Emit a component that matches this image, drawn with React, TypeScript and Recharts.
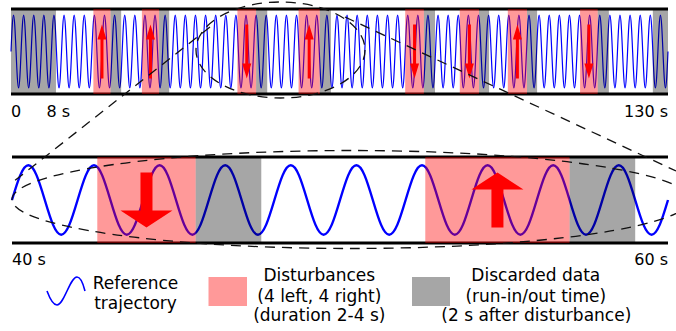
import { ComposedChart, Line, XAxis, YAxis, ReferenceArea, ReferenceLine, Scatter } from "recharts";

// one period of the reference trajectory, sampled every 1/8 period (s, normalised level)
const wavePeriod = 2;
const wavePhase = [0, 0.25, 0.5, 0.75, 1, 1.25, 1.5, 1.75];
const waveLevel = [0, 0.71, 1, 0.71, 0, -0.71, -1, -0.71];

// full run, 0-130 s
const runSpan = [0, 130];
const runTicks = [0, 8, 130];
const runTickLabels = ["0", "8 s", "130 s"];
const runInOut = [
  [0, 8.9],
  [127, 130],
];
const runPushStart = [16.3, 25.9, 44.8, 56.9, 78.0, 88.8, 98.3, 112.6];
const runPushEnd = [19.7, 29.3, 48.5, 61.1, 81.7, 92.6, 102.1, 116.1];
const runSettleEnd = [21.8, 31.3, 50.7, 63.3, 83.9, 94.6, 104.1, 118.3];
const runPushDir = [1, 1, -1, 1, -1, -1, 1, -1];

// zoomed window, 40-60 s
const zoomSpan = [40, 60];
const zoomTicks = [40, 60];
const zoomTickLabels = ["40 s", "60 s"];
const zoomPushStart = [42.6, 52.6];
const zoomPushEnd = [45.6, 57.0];
const zoomSettleEnd = [47.6, 59.0];
const zoomPushDir = [-1, 1];
const zoomArrowAt = [44.1, 54.8];

const FONT = "'DejaVu Sans', sans-serif";
const PINK = "#ff0000";
const GREY = "#000000";

function buildWave(from: number, to: number) {
  const rows: { t: number; y: number }[] = [];
  for (let start = from; start < to; start += wavePeriod) {
    wavePhase.forEach((p, i) => rows.push({ t: start + p, y: waveLevel[i] }));
  }
  rows.push({ t: to, y: 0 });
  return rows;
}

function arrowShape(len: number, shaft: number, head: number, headLen: number) {
  return (props: any) => {
    const { cx, cy, payload } = props;
    const d = payload.dir;
    const tip = cy - (d * len) / 2;
    const tail = cy + (d * len) / 2;
    const base = tip + d * headLen;
    const p = [
      [cx - shaft / 2, tail],
      [cx - shaft / 2, base],
      [cx - head / 2, base],
      [cx, tip],
      [cx + head / 2, base],
      [cx + shaft / 2, base],
      [cx + shaft / 2, tail],
    ];
    return <path d={"M" + p.map((q) => q.join(" ")).join("L") + "Z"} fill="#ff0000" />;
  };
}

function makeTick(labels: string[], ticks: number[], dy: number) {
  return (props: any) => {
    const { x, y, payload } = props;
    const i = ticks.indexOf(payload.value);
    const last = i === ticks.length - 1;
    const anchor = last ? "end" : "start";
    const dx = i === 0 || last ? 0 : -5;
    return (
      <text x={x + dx} y={y + dy} textAnchor={anchor} fontFamily={FONT} fontSize={16} fill="#000">
        {labels[i]}
      </text>
    );
  };
}

function Panel({
  span,
  ticks,
  labels,
  pushStart,
  pushEnd,
  settleEnd,
  dirs,
  arrowAt,
  extraGrey,
  limit,
  height,
  margin,
  lineWidth,
  arrow,
  tickDy,
}: any) {
  const wave = buildWave(span[0], span[1]);
  const arrows = dirs.map((dir: number, i: number) => ({
    t: arrowAt ? arrowAt[i] : (pushStart[i] + pushEnd[i]) / 2,
    y: 0,
    dir,
  }));
  return (
    <ComposedChart width={676} height={height} data={wave} margin={margin}>
      <XAxis
        dataKey="t"
        type="number"
        domain={span}
        ticks={ticks}
        interval={0}
        axisLine={false}
        tickLine={false}
        height={20}
        tick={makeTick(labels, ticks, tickDy)}
      />
      <YAxis dataKey="y" type="number" domain={[-limit, limit]} hide />
      <ReferenceLine y={limit} stroke="#000" strokeWidth={3} />
      <ReferenceLine y={-limit} stroke="#000" strokeWidth={3} />
      <Line
        dataKey="y"
        type="natural"
        stroke="#0000ff"
        strokeWidth={lineWidth}
        dot={false}
        isAnimationActive={false}
      />
      {extraGrey.map((g: number[], i: number) => (
        <ReferenceArea key={"g" + i} x1={g[0]} x2={g[1]} y1={-limit} y2={limit} fill={GREY} fillOpacity={0.35} stroke="none" zIndex={700} />
      ))}
      {pushStart.map((s: number, i: number) => (
        <ReferenceArea key={"p" + i} x1={s} x2={pushEnd[i]} y1={-limit} y2={limit} fill={PINK} fillOpacity={0.4} stroke="none" zIndex={700} />
      ))}
      {pushEnd.map((s: number, i: number) => (
        <ReferenceArea key={"s" + i} x1={s} x2={settleEnd[i]} y1={-limit} y2={limit} fill={GREY} fillOpacity={0.35} stroke="none" zIndex={700} />
      ))}
      <Scatter data={arrows} dataKey="y" shape={arrowShape(arrow[0], arrow[1], arrow[2], arrow[3])} isAnimationActive={false} zIndex={800} />
    </ComposedChart>
  );
}

export default function App() {
  return (
    <div style={{ position: "absolute", left: 0, top: 0, width: 676, height: 331, background: "#fff", overflow: "hidden" }}>
      <div style={{ position: "absolute", left: 0, top: 0 }}>
        <Panel
          span={runSpan}
          ticks={runTicks}
          labels={runTickLabels}
          pushStart={runPushStart}
          pushEnd={runPushEnd}
          settleEnd={runSettleEnd}
          dirs={runPushDir}
          extraGrey={runInOut}
          limit={1.164}
          height={125}
          margin={{ top: 9, right: 8, left: 11, bottom: 11 }}
          lineWidth={1.2}
          arrow={[54, 3, 9, 15]}
          tickDy={15}
        />
      </div>
      <div style={{ position: "absolute", left: 0, top: 150 }}>
        <Panel
          span={zoomSpan}
          ticks={zoomTicks}
          labels={zoomTickLabels}
          pushStart={zoomPushStart}
          pushEnd={zoomPushEnd}
          settleEnd={zoomSettleEnd}
          dirs={zoomPushDir}
          arrowAt={zoomArrowAt}
          extraGrey={[]}
          limit={1.239}
          height={126}
          margin={{ top: 7, right: 8, left: 12, bottom: 13 }}
          lineWidth={2.4}
          arrow={[55, 12, 52, 17]}
          tickDy={14}
        />
      </div>
      <svg width={676} height={331} style={{ position: "absolute", left: 0, top: 0, pointerEvents: "none" }}>
        <g fill="none" stroke="#111" strokeWidth={1.3} strokeDasharray="10 7">
          <ellipse cx={280.5} cy={50} rx={84.5} ry={48} />
          <ellipse cx={351} cy={199.5} rx={339} ry={49} />
          <line x1={210} y1={27} x2={13} y2={182} />
          <line x1={345} y1={17} x2={676} y2={171} />
        </g>
        <g fontFamily={FONT} fontSize={17} fill="#000" textAnchor="middle">
          <path d="M47 291 C50 299 53 305 57 305 C64 305 70 277 77 277 C80 277 83 283 85 291" fill="none" stroke="#0000ff" strokeWidth={1.6} />
          <text x={135.5} y={289}>Reference</text>
          <text x={135.5} y={309}>trajectory</text>
          <rect x={208.5} y={277} width={38.5} height={29} fill="#ff9999" />
          <text x={319.3} y={281}>Disturbances</text>
          <text x={319.3} y={301.5}>(4 left, 4 right)</text>
          <text x={319.3} y={321}>(duration 2-4 s)</text>
          <rect x={412} y={277} width={38} height={29} fill="#a6a6a6" />
          <text x={535.8} y={281}>Discarded data</text>
          <text x={535.8} y={301.5}>(run-in/out time)</text>
          <text x={536.3} y={321}>(2 s after disturbance)</text>
        </g>
      </svg>
    </div>
  );
}
